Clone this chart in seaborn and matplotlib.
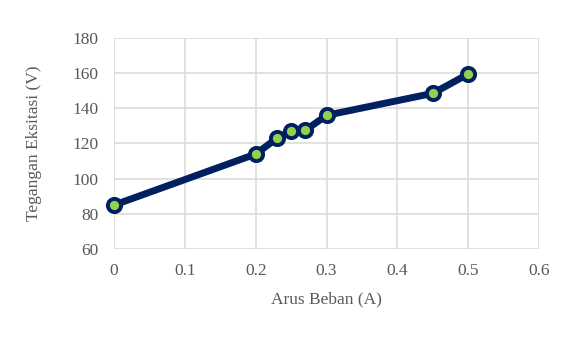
import pandas as pd
import seaborn as sns
import matplotlib.pyplot as plt

arus_beban = [0, 0.2, 0.23, 0.25, 0.27, 0.3, 0.45, 0.5]
tegangan = [85, 114, 123, 127, 127.5, 136, 148.5, 159.5]

x_ticks = [0, 0.1, 0.2, 0.3, 0.4, 0.5, 0.6]
y_ticks = [60, 80, 100, 120, 140, 160, 180]

df = pd.DataFrame({"Arus Beban (A)": arus_beban, "Tegangan Eksitasi (V)": tegangan})

sns.set_theme(style="whitegrid")
plt.rcParams["font.family"] = ["Liberation Serif", "DejaVu Serif"]

fig = plt.figure(figsize=(5.7, 3.38), dpi=100)
ax = fig.add_axes([0.2, 0.263, 0.746, 0.625])

sns.lineplot(data=df, x="Arus Beban (A)", y="Tegangan Eksitasi (V)", ax=ax,
             color="#002060", linewidth=5, marker="o", markersize=9.5,
             markerfacecolor="#92D050", markeredgecolor="#002060",
             markeredgewidth=2.8, zorder=3, clip_on=False)

ax.set_xlim(0, 0.6)
ax.set_ylim(60, 180)
ax.set_xticks(x_ticks)
ax.set_xticklabels([f"{t:g}" for t in x_ticks])
ax.set_yticks(y_ticks)
ax.grid(True, color="#d9d9d9", linewidth=1.1)
for s in ax.spines.values():
    s.set_visible(False)
ax.tick_params(axis="both", colors="#595959", labelsize=12.5, length=0)
ax.tick_params(axis="y", pad=11)
ax.tick_params(axis="x", pad=10)
ax.set_xlabel("Arus Beban (A)", fontsize=12.5, color="#595959", labelpad=9)
ax.set_ylabel("Tegangan Eksitasi (V)", fontsize=12.5, color="#595959", labelpad=22)

fig.savefig("out.png", dpi=100)
